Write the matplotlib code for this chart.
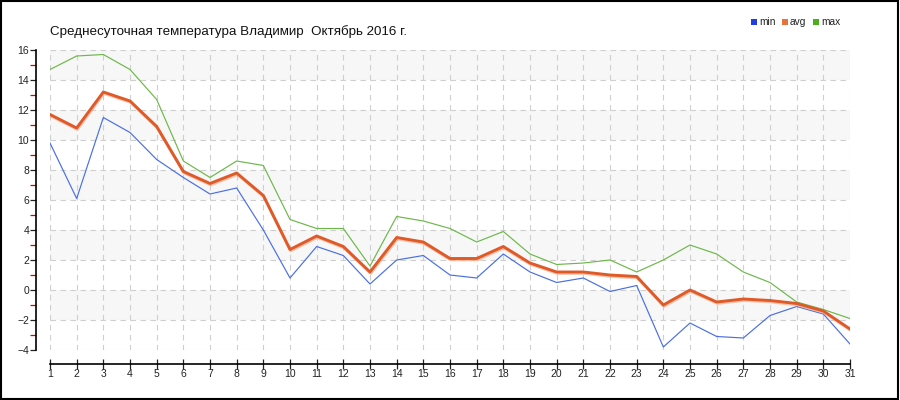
import matplotlib
matplotlib.use("Agg")
import matplotlib.pyplot as plt
from matplotlib.patches import Rectangle
import matplotlib.patheffects as pe

days = list(range(1, 32))
t_min = [9.8, 6.1, 11.5, 10.5, 8.7, 7.5, 6.4, 6.8, 4.0, 0.8, 2.9, 2.3, 0.4, 2.0, 2.3,
         1.0, 0.8, 2.4, 1.2, 0.5, 0.8, -0.1, 0.3, -3.8, -2.2, -3.1, -3.2, -1.7, -1.1, -1.6, -3.6]
t_avg = [11.7, 10.8, 13.2, 12.6, 10.9, 7.9, 7.1, 7.8, 6.3, 2.7, 3.6, 2.9, 1.2, 3.5, 3.2,
         2.1, 2.1, 2.9, 1.8, 1.2, 1.2, 1.0, 0.9, -1.0, 0.0, -0.8, -0.6, -0.7, -0.9, -1.4, -2.6]
t_max = [14.7, 15.6, 15.7, 14.7, 12.7, 8.6, 7.5, 8.6, 8.3, 4.7, 4.1, 4.1, 1.6, 4.9, 4.6,
         4.1, 3.2, 3.9, 2.4, 1.7, 1.8, 2.0, 1.2, 2.0, 3.0, 2.4, 1.2, 0.5, -0.8, -1.3, -1.9]
series_names = ["min", "avg", "max"]
title = "Среднесуточная температура Владимир  Октябрь 2016 г."

plt.rcParams['font.family'] = ['Liberation Sans', 'DejaVu Sans']

fig = plt.figure(figsize=(9, 4), dpi=100)
ax = fig.add_axes([50/900, 50/400, 800/900, 300/400])
ax.set_xlim(1, 31)
ax.set_ylim(-4, 16)

# alternating bands
for y0 in [14, 10, 6, 2, -2]:
    ax.axhspan(y0, y0 + 2, color='#f7f7f7', zorder=0, lw=0)

ax.set_xticks(days)
ax.set_yticks(range(-4, 17, 2))
ax.set_yticks(range(-3, 16, 2), minor=True)
ax.grid(True, which='major', color='#cfcfcf', linestyle=(0, (5, 4)), linewidth=0.8, zorder=1)

ax.plot(days, t_max, color='#6db84a', lw=0.85, zorder=3)
ax.plot(days, t_min, color='#4a6fe3', lw=0.85, zorder=3)
ax.plot(days, t_avg, color='#e05a28', lw=2.1, zorder=4,
        path_effects=[pe.SimpleLineShadow(offset=(0.5, -1), shadow_color='#f2a98c', alpha=0.7), pe.Normal()])

for s in ['top', 'right']:
    ax.spines[s].set_visible(False)
ax.spines['left'].set_position(('outward', 10))
ax.spines['bottom'].set_position(('outward', 10))
ax.spines['left'].set_bounds(-4, 16)
ax.spines['bottom'].set_bounds(1, 31)
ax.spines['left'].set_linewidth(1.2)
ax.spines['bottom'].set_linewidth(1.2)

ax.tick_params(axis='y', which='major', direction='out', length=4, width=0.9, labelsize=7.5, pad=1, colors='#222222')
ax.tick_params(axis='y', which='minor', direction='out', length=4, width=0.9, color='#dd0000')
ax.tick_params(axis='x', which='major', direction='inout', length=7, width=0.9, labelsize=7.5, pad=0, colors='#222222')

ax.set_title(title, loc='left', fontsize=9.6, x=0.0, y=1.0, pad=11, color='#111111')

# legend
leg_items = [("min", '#1f3fe0', 751), ("avg", '#e8733a', 782), ("max", '#4cae1e', 813)]
for name, col, x in leg_items:
    fig.patches.append(Rectangle((x / 900, 1 - 25 / 400), 6 / 900, 6 / 400, transform=fig.transFigure,
                                 facecolor=col, edgecolor='none'))
    fig.text((x + 8) / 900, 1 - 22 / 400, name, fontsize=7.3, va='center', ha='left', color='#222222')

# border
fig.patches.append(Rectangle((0.001, 0.002), 0.997, 0.995, transform=fig.transFigure,
                             fill=False, edgecolor='black', linewidth=1.5))

fig.savefig('out.png', dpi=100)
